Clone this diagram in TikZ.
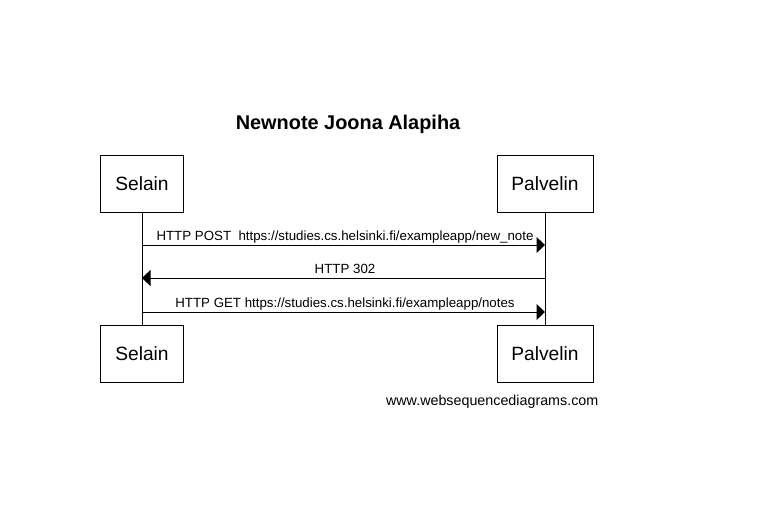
\documentclass[tikz,border=0pt]{standalone}
\usepackage{fontspec}
\setmainfont{Liberation Sans}
\usepackage{tikz}
\usetikzlibrary{arrows.meta}
\usetikzlibrary{positioning}

\tikzset{
  actor/.style={draw, line width=1pt, inner sep=0pt, minimum height=57pt,
    font=\fontsize{19.2}{22}\selectfont},
  msg/.style={anchor=base, inner sep=0pt, font=\fontsize{13.3}{15}\selectfont},
  msgline/.style={line width=1pt, -{Triangle[length=8.5pt,width=16pt]}},
  life/.style={line width=1pt}
}

\begin{document}
\begin{tikzpicture}[x=1pt, y=-1pt]

% page frame
\useasboundingbox (0,0) rectangle (759,512);

\def \xSEL {142}
\def \xPAL {545}
\def \yTOP {183.5}
\def \yBOT {353.5}
\def \xMID {345}

% title
\node[anchor=base, inner sep=0pt, font=\bfseries\fontsize{19.9}{22}\selectfont] (title) at (348,129) {Newnote Joona Alapiha};

% actor boxes
\node[actor, minimum width=83pt] (selTop) at (\xSEL, \yTOP) {Selain};
\node[actor, minimum width=96pt] (palTop) at (\xPAL, \yTOP) {Palvelin};
\node[actor, minimum width=83pt] (selBot) at (\xSEL, \yBOT) {Selain};
\node[actor, minimum width=96pt] (palBot) at (\xPAL, \yBOT) {Palvelin};

% lifelines
\draw[life] (selTop.south) -- (selBot.north);
\draw[life] (palTop.south) -- (palBot.north);

% message end points
\coordinate (selA) at (\xSEL, 245);
\coordinate (palA) at (\xPAL, 245);
\coordinate (selB) at (\xSEL, 278);
\coordinate (palB) at (\xPAL, 278);
\coordinate (selC) at (\xSEL, 312);
\coordinate (palC) at (\xPAL, 312);

% messages
\draw[msgline] (selA) -- (palA);
\node[msg] (postLabel) at (\xMID, 240.5) {HTTP POST\ \ https://studies.cs.helsinki.fi/exampleapp/new\_note};

\draw[msgline] (palB) -- (selB);
\node[msg] (redirLabel) at (\xMID, 273.5) {HTTP 302};

\draw[msgline] (selC) -- (palC);
\node[msg] (getLabel) at (\xMID, 307) {HTTP GET https://studies.cs.helsinki.fi/exampleapp/notes};

% footer
\node[anchor=base east, inner sep=0pt, font=\fontsize{14.3}{16}\selectfont] (footer) at (598.5,405.5) {www.websequencediagrams.com};

\end{tikzpicture}
\end{document}
